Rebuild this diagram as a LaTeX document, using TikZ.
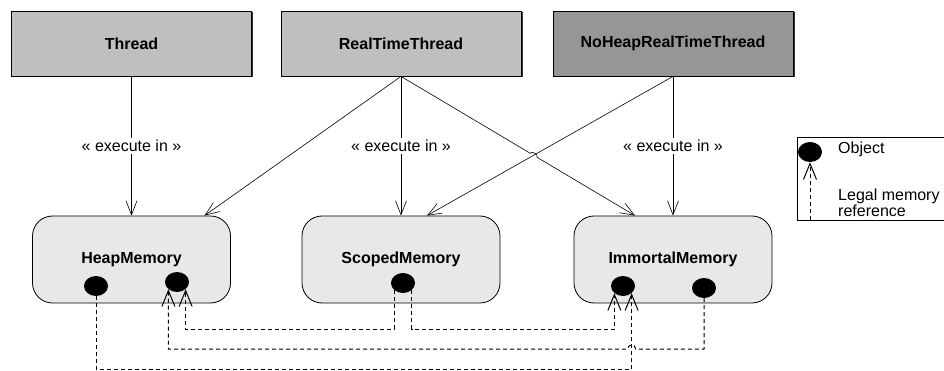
\documentclass[tikz,border=0pt]{standalone}
\usepackage{fontspec}
\setmainfont{Liberation Sans}
\usetikzlibrary{arrows.meta,positioning,calc,shapes.geometric,shadows}

\tikzset{
  thr/.style={draw, line width=0.8pt, minimum width=240pt, minimum height=65pt, inner sep=0pt,
    font=\bfseries\fontsize{16}{19}\selectfont,
    drop shadow={shadow xshift=1.5pt, shadow yshift=-1.5pt, opacity=1, fill=black!80}},
  mem/.style={draw, line width=0.8pt, rounded corners=20pt, fill=black!9, minimum width=198pt,
    minimum height=87pt, inner sep=0pt, font=\bfseries\fontsize{16}{19}\selectfont},
  obj/.style={ellipse, fill=black, minimum width=24pt, minimum height=20pt, inner sep=0pt},
  exec/.style={-{Straight Barb[length=14pt,width=11pt]}, line width=0.6pt},
  ref/.style={-{Straight Barb[length=16pt,width=13pt]}, line width=1pt, dash pattern=on 4pt off 3pt},
  lab/.style={fill=white, inner sep=2pt, font=\fontsize{16}{19}\selectfont},
  leg/.style={anchor=west, inner sep=0pt, align=left, font=\fontsize{16}{13.5}\selectfont}
}

\begin{document}
\begin{tikzpicture}[x=1pt,y=-1pt]
  \useasboundingbox (0,0) rectangle (944,371);
  \foreach \n/\x/\c/\t in {thread/131.5/50/Thread, rtt/401/50/RealTimeThread, nhrtt/673/82/NoHeapRealTimeThread}{
    \node[thr, fill=gray!\c] (\n) at (\x,43.5) {\t};
  }
  \foreach \n/\x/\t in {heap/131.5/HeapMemory, scoped/401/ScopedMemory, immortal/673/ImmortalMemory}{
    \node[mem] (\n) at (\x,259.5) {\t};
  }
  % objects
  \node[obj] (h1) at (96,286) {};
  \node[obj] (h2) at (177,282) {};
  \node[obj] (s1) at (403,283) {};
  \node[obj] (i1) at (623,286) {};
  \node[obj] (i2) at (704,288) {};

  \coordinate (hin) at ([xshift=73pt]heap.north);
  \coordinate (sin) at ([xshift=26pt]scoped.north);
  \coordinate (iin) at ([xshift=-38pt]immortal.north);
  \coordinate (cross) at (intersection of rtt.south--iin and nhrtt.south--sin);

  \draw[exec] (thread.south) -- node[lab]{« execute in »} (heap.north);
  \draw[exec] (rtt.south) -- (hin);
  \draw[exec] (rtt.south) -- node[lab]{« execute in »} (scoped.north);
  \draw[exec] (nhrtt.south) -- (sin);
  \draw[exec] (rtt.south) -- ($(cross)!4pt!(rtt.south)$) to[bend left=90] ($(cross)!4pt!(iin)$) -- (iin);
  \draw[exec] (nhrtt.south) -- node[lab]{« execute in »} (immortal.north);

  % memory references
  \coordinate (lane1) at (0,329);
  \coordinate (lane2) at (0,349);
  \coordinate (lane3) at (0,369.5);
  \draw[ref] (s1.south west) -- (s1.south west |- lane1) -| (h2.south east);
  \draw[ref] (s1.south east) -- (s1.south east |- lane1) -| (i1.south west);
  \draw[ref] (i2.south) -- (i2.south |- lane2) -- ($(i1.south east |- lane2)+(4,0)$)
    arc[start angle=0, end angle=180, radius=4pt] -| (h2.south west);
  \draw[ref] (h1.south) -- (h1.south |- lane3) -| (i1.south east);

  % legend
  \draw[line width=0.8pt] (944,137) -- (797,137) -- (797,220) -- (944,220);
  \node[obj] (lobj) at (810,152) {};
  \coordinate (lfoot) at (810,220);
  \draw[ref] (lfoot) -- (lobj.south);
  \node[leg] (lobjtxt) at (838,149) {Object};
  \node[leg] (lreftxt) at (838,202.5) {Legal memory\\reference};
\end{tikzpicture}
\end{document}
